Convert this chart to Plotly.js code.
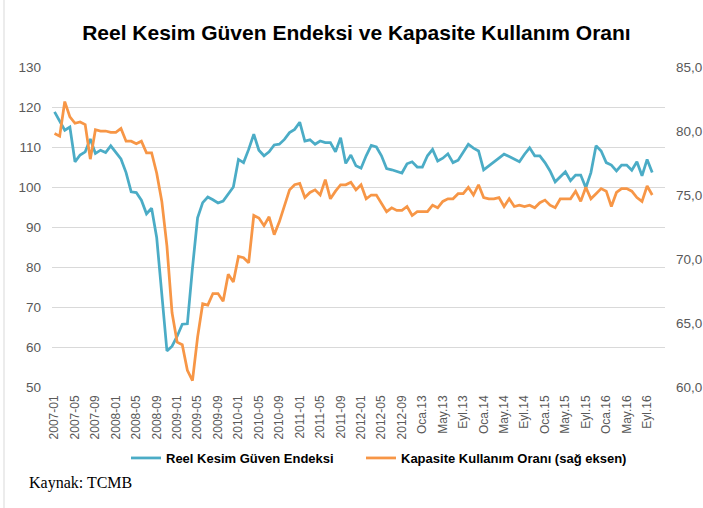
<!DOCTYPE html>
<html>
<head>
<meta charset="utf-8">
<script src="https://cdn.plot.ly/plotly-3.0.1.min.js"></script>
<style>html,body{margin:0;padding:0;background:#fff;}#chart{width:703px;height:508px;}</style>
</head>
<body>
<div id="chart"></div>
<script>
// Monthly categories 2007-01 .. 2016-10
var startYear = 2007, nMonths = 118;
var months = [];
for (var k = 0; k < nMonths; k++) {
  var yy = startYear + Math.floor(k / 12), mm = (k % 12) + 1;
  months.push(yy + '-' + (mm < 10 ? '0' + mm : mm));
}

// Reel Kesim Güven Endeksi (left axis)
var rkgeValues = [
  118.8,116.5,114.2,115.0,106.3,108.0,108.8,112.0,108.4,109.2,108.6,110.3,
  108.6,107.0,103.6,98.8,98.6,96.7,93.3,94.7,87.3,74.0,59.0,60.2,
  62.7,65.7,65.8,79.8,92.3,96.1,97.5,96.8,96.0,96.5,98.2,100.0,
  106.9,106.1,109.4,113.2,109.2,107.8,108.8,110.5,110.7,111.9,113.6,114.4,
  116.2,111.5,111.8,110.7,111.5,111.1,111.1,108.8,112.3,105.9,108.0,105.3,
  104.7,107.8,110.4,110.0,107.8,104.6,104.3,103.8,103.5,105.8,106.3,105.0,
  105.0,107.8,109.4,106.5,107.2,108.3,106.1,106.7,108.8,110.7,109.7,109.0,
  104.3,105.3,106.3,107.3,108.2,107.6,106.9,106.3,108.2,109.8,107.8,107.8,
  106.1,104.0,101.3,102.5,103.8,101.6,103.0,103.0,99.8,103.6,110.3,109.0,
  106.1,105.5,104.0,105.5,105.5,104.2,106.3,102.8,106.9,103.6
];

// Kapasite Kullanım Oranı (right axis)
var kkoValues = [
  79.8,79.6,82.3,81.1,80.6,80.7,80.5,77.8,80.1,80.0,80.0,79.9,
  79.9,80.2,79.2,79.2,79.0,79.2,78.3,78.3,76.7,74.5,71.0,65.8,
  63.5,63.3,61.3,60.5,63.9,66.5,66.4,67.3,67.3,66.7,68.8,68.2,
  70.2,70.1,69.7,73.4,73.2,72.6,73.3,71.9,72.9,74.2,75.4,75.8,
  75.9,74.8,75.2,75.4,75.0,76.2,74.7,75.3,75.8,75.8,76.0,75.4,
  75.8,74.7,75.0,75.0,74.4,73.7,74.0,73.8,73.8,74.1,73.4,73.7,
  73.7,73.7,74.2,74.0,74.5,74.7,74.7,75.1,75.1,75.6,75.0,75.8,
  74.8,74.7,74.7,74.8,74.1,74.7,74.1,74.2,74.1,74.2,74.0,74.4,
  74.6,74.2,74.0,74.7,74.7,74.7,75.3,74.5,75.6,74.7,75.1,75.5,
  75.3,74.1,75.2,75.5,75.5,75.3,74.8,74.5,75.7,75.0
];

// Tick labels (every 4th month)
var tickLabels = [
  '2007-01','2007-05','2007-09','2008-01','2008-05','2008-09',
  '2009-01','2009-05','2009-09','2010-01','2010-05','2010-09',
  '2011-01','2011-05','2011-09','2012-01','2012-05','2012-09',
  'Oca.13','May.13','Eyl.13','Oca.14','May.14','Eyl.14',
  'Oca.15','May.15','Eyl.15','Oca.16','May.16','Eyl.16'
];
var tickVals = [];
for (var t = 0; t < tickLabels.length; t++) tickVals.push(months[t * 4]);

var seriesNames = ['Reel Kesim Güven Endeksi', 'Kapasite Kullanım Oranı (sağ eksen)'];
var titleText = 'Reel Kesim Güven Endeksi ve Kapasite Kullanım Oranı';
var sourceText = 'Kaynak: TCMB';

var W = 703, H = 508, L = 52, R = 38, T = 67, B = 121;
var PW = W - L - R, PH = H - T - B;
function px(x) { return (x - L) / PW; }
function py(y) { return (H - B - y) / PH; }

var traces = [
  {x: months, y: rkgeValues, type: 'scatter', mode: 'lines', name: seriesNames[0],
   line: {color: '#4BACC6', width: 2.75}, yaxis: 'y', legend: 'legend'},
  {x: months, y: kkoValues, type: 'scatter', mode: 'lines', name: seriesNames[1],
   line: {color: '#F79646', width: 2.75}, yaxis: 'y2', legend: 'legend2'}
];

var tickFont = {family: 'Liberation Sans, Arial, sans-serif', size: 13.5, color: '#595959'};
var legendFont = {family: 'Liberation Sans, Arial, sans-serif', size: 13, weight: 'bold', color: '#000000'};

var layout = {
  width: W, height: H,
  margin: {l: L, r: R, t: T, b: B, pad: 0},
  paper_bgcolor: '#ffffff', plot_bgcolor: '#ffffff',
  separators: ',.',
  title: {text: titleText, font: {family: 'Liberation Sans, Arial, sans-serif', size: 21, weight: 'bold', color: '#000000'},
          xref: 'container', x: 0.507, xanchor: 'center', yref: 'container', y: 1 - 33 / H, yanchor: 'middle'},
  xaxis: {type: 'category', range: [-0.5, 119.5], tickmode: 'array', tickvals: tickVals, ticktext: tickLabels,
          tickangle: -90, tickfont: {family: 'Liberation Sans, Arial, sans-serif', size: 12, color: '#595959'},
          ticklabelstandoff: 5,
          showgrid: false, zeroline: false, showline: false, ticks: '', fixedrange: true},
  yaxis: {range: [50, 130], dtick: 10, tick0: 50, showgrid: true, gridcolor: '#D9D9D9', gridwidth: 1,
          zeroline: false, showline: false, ticks: '', tickfont: tickFont, ticklabelstandoff: 10},
  yaxis2: {range: [60, 85], dtick: 5, tick0: 60, overlaying: 'y', side: 'right', showgrid: false,
           zeroline: false, showline: false, ticks: '', tickformat: '.1f', tickfont: tickFont, ticklabelstandoff: 10},
  showlegend: true,
  legend: {orientation: 'h', x: px(126), xanchor: 'left', y: py(458), yanchor: 'middle',
           font: legendFont, bgcolor: 'rgba(0,0,0,0)', borderwidth: 0},
  legend2: {orientation: 'h', x: px(361), xanchor: 'left', y: py(458), yanchor: 'middle',
           font: legendFont, bgcolor: 'rgba(0,0,0,0)', borderwidth: 0},
  annotations: [
    {text: sourceText, xref: 'paper', yref: 'paper', x: px(27), y: py(483), xanchor: 'left', yanchor: 'middle',
     showarrow: false, font: {family: 'Liberation Serif, Times New Roman, serif', size: 16, color: '#000000'}}
  ],
  shapes: [
    {type: 'line', xref: 'paper', yref: 'paper', x0: px(4), x1: px(4), y0: py(H), y1: py(0),
     line: {color: '#D9D9D9', width: 1}}
  ]
};

Plotly.newPlot('chart', traces, layout, {displayModeBar: false, staticPlot: true});
</script>
</body>
</html>
